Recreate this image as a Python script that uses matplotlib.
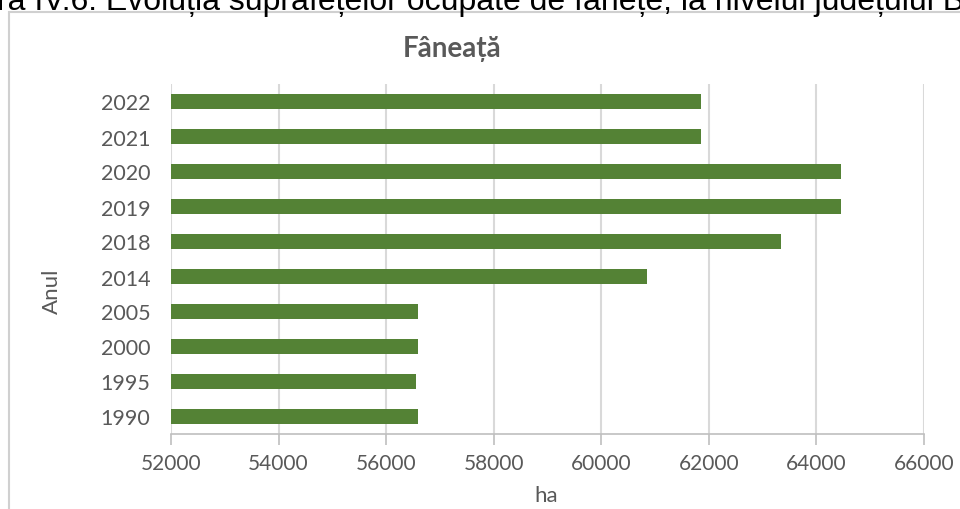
import matplotlib
matplotlib.use('Agg')
from matplotlib import pyplot as plt
from matplotlib import rcParams
from matplotlib.patches import Rectangle

rcParams['font.family'] = ['Lato', 'DejaVu Sans']

years = ['1990', '1995', '2000', '2005', '2014', '2018', '2019', '2020', '2021', '2022']
hectares = [56600, 56550, 56600, 56600, 60850, 63350, 64450, 64450, 61850, 61850]
xticks = [52000, 54000, 56000, 58000, 60000, 62000, 64000, 66000]

caption = 'ra IV.6. Evoluția suprafețelor ocupate de fânețe, la nivelul județului B'
title = 'Fâneață'

green = '#548235'
grey_text = '#595959'
grid_col = '#d9d9d9'

W, H = 960, 510
fig = plt.figure(figsize=(W / 100, H / 100), dpi=100)
fig.patch.set_facecolor('white')

# chart frame, runs off the right and bottom edges
fig.patches.append(Rectangle((9 / W, -0.1), 1.2, 1 - 13 / H + 0.1,
                             transform=fig.transFigure, fill=False,
                             edgecolor='#d0d0d0', linewidth=1.5))

ax = fig.add_axes([171 / W, 75 / H, (924 - 171) / W, (435 - 85) / H])
pos = range(len(years))
ax.barh(pos, [v - xticks[0] for v in hectares], left=xticks[0],
        height=0.41, color=green, zorder=3)

ax.set_xlim(xticks[0], xticks[-1])
ax.set_ylim(-0.5, len(years) - 0.5)
ax.set_xticks(xticks)
ax.set_xticklabels([str(t) for t in xticks])
ax.set_yticks(list(pos))
ax.set_yticklabels(years)

ax.grid(axis='x', color=grid_col, linewidth=1.5, zorder=0)
for s in ['top', 'right', 'left']:
    ax.spines[s].set_visible(False)
ax.spines['bottom'].set_color('#bfbfbf')
ax.spines['bottom'].set_linewidth(1.2)
ax.spines['bottom'].set_zorder(4)

ax.tick_params(axis='x', colors='#bfbfbf', length=8, width=1.2,
               labelcolor=grey_text, labelsize=15, pad=6)
ax.tick_params(axis='y', length=0, labelcolor=grey_text, labelsize=15.5, pad=15)

fig.text(452 / W, 1 - 57 / H, title, ha='center', va='baseline',
         fontsize=20, fontweight='bold', color=grey_text)
fig.text(52 / W, 1 - 291 / H, 'Anul', rotation=90, ha='center', va='center',
         fontsize=16, color=grey_text)
fig.text(546 / W, 1 - 496 / H, 'ha', ha='center', va='center',
         fontsize=16, color=grey_text)

fig.text(-3 / W, 1 - 10 / H, caption, ha='left', va='baseline',
         fontsize=23, color='black', family=['Liberation Sans', 'DejaVu Sans'])

fig.savefig('out.png', dpi=100)
